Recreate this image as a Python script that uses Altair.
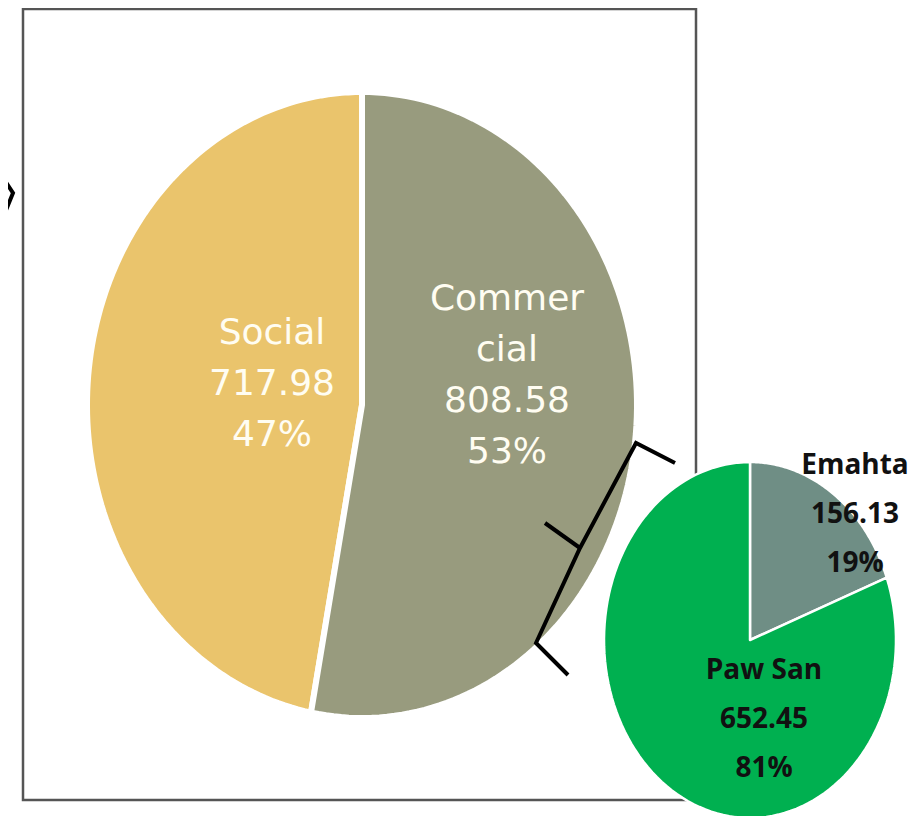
import altair as alt
import pandas as pd

# ---------------- data ----------------
main_labels = ["Social", "Commercial"]
main_values = [717.98, 808.58]
main_pcts = ["47%", "53%"]

sub_labels = ["Emahta", "Paw San"]
sub_values = [156.13, 652.45]
sub_pcts = ["19%", "81%"]

# ---------------- layout / style ----------------
W, H = 904, 808          # drawing area (page minus the 8px margin)
OFF = 8                  # page margin
N = 120                  # arc resolution

# pie geometry in page pixels (the reference pies are slightly elliptical)
PIE = {
    "main": dict(cx=362, cy=405, rx=275, ry=313),
    "sub": dict(cx=750, cy=640, rx=146, ry=178),
}
# clockwise from 12 o'clock
SLICE_ORDER = {"Commercial": 0, "Social": 1, "Emahta": 0, "Paw San": 1}
COLORS = {"Social": "#EAC46C", "Commercial": "#989B7E",
          "Emahta": "#6F8E85", "Paw San": "#00B050"}
WRAP = {"Commercial": "Commer\ncial"}
# label anchor: centre x and first-line y (page pixels)
LABEL_POS = {"Social": (272, 333), "Commercial": (507, 299),
             "Emahta": (855, 466), "Paw San": (764, 671)}

# ---------------- tables ----------------
rows = []
for pie, labs, vals, pcts in (("main", main_labels, main_values, main_pcts),
                              ("sub", sub_labels, sub_values, sub_pcts)):
    for lab, val, pct in zip(labs, vals, pcts):
        lx, ly = LABEL_POS[lab]
        rows.append(dict(pie=pie, label=lab, value=val, ord=SLICE_ORDER[lab],
                         txt=f"{WRAP.get(lab, lab)}\n{val:.2f}\n{pct}",
                         lx=lx - OFF, ly=ly - OFF))
slices = pd.DataFrame(rows)


def sel(key):
    m, s = PIE["main"][key], PIE["sub"][key]
    return f"(datum.pie == 'main' ? {m} : {s})"


xs = alt.Scale(domain=[0, W])
ys = alt.Scale(domain=[0, H], reverse=True)
fill_scale = alt.Scale(domain=list(COLORS.keys()), range=list(COLORS.values()))

wedges = (
    alt.Chart(slices)
    .transform_joinaggregate(total="sum(value)", groupby=["pie"])
    .transform_window(cum="sum(value)", sort=[alt.SortField("ord", order="ascending")],
                      groupby=["pie"])
    .transform_calculate(
        a0="2*PI*(datum.cum - datum.value)/datum.total",
        a1="2*PI*datum.cum/datum.total",
        ks=f"sequence(0, {N + 2})",
    )
    .transform_flatten(["ks"], as_=["k"])
    .transform_calculate(
        t=f"datum.k <= {N} ? datum.a0 + (datum.a1 - datum.a0) * datum.k / {N} : datum.a0",
        rr=f"datum.k > {N} ? 0 : 1",
    )
    .transform_calculate(
        px=f"{sel('cx')} - {OFF} + {sel('rx')} * datum.rr * sin(datum.t)",
        py=f"{sel('cy')} - {OFF} - {sel('ry')} * datum.rr * cos(datum.t)",
    )
)


def wedge_layer(pie, sw):
    return (
        wedges.transform_filter(f"datum.pie == '{pie}'")
        .mark_line(stroke="white", strokeWidth=sw, interpolate="linear-closed",
                   strokeJoin="round")
        .encode(
            x=alt.X("px:Q", scale=xs, axis=None),
            y=alt.Y("py:Q", scale=ys, axis=None),
            fill=alt.Fill("label:N", scale=fill_scale, legend=None),
            detail="label:N",
            order=alt.Order("k:Q"),
        )
    )


main_pie = wedge_layer("main", 6)
sub_pie = wedge_layer("sub", 2.5)

labels_main = (
    alt.Chart(slices).transform_filter("datum.pie == 'main'")
    .mark_text(font="DejaVu Sans", fontSize=36, color="#FFFDF2", lineBreak="\n",
               lineHeight=51, align="center", baseline="middle")
    .encode(x=alt.X("lx:Q", scale=xs, axis=None),
            y=alt.Y("ly:Q", scale=ys, axis=None), text="txt:N")
)
labels_sub = (
    alt.Chart(slices).transform_filter("datum.pie == 'sub'")
    .mark_text(font="Open Sans", fontSize=28, fontWeight="bold", color="#111111",
               lineBreak="\n", lineHeight=49, align="center", baseline="middle")
    .encode(x=alt.X("lx:Q", scale=xs, axis=None),
            y=alt.Y("ly:Q", scale=ys, axis=None), text="txt:N")
)

# decorative braces (page pixels)
BRACES = [
    ("mid", [(675, 463), (636, 443), (580, 548), (536, 643), (568, 675)]),
    ("tip", [(545, 523), (580, 548)]),
    ("left", [(0, 173), (13, 193), (2, 220)]),
]
brows = []
for name, pts in BRACES:
    for i, (bx, by) in enumerate(pts):
        brows.append(dict(seg=name, i=i, bx=bx - OFF, by=by - OFF))
braces = (
    alt.Chart(pd.DataFrame(brows))
    .mark_line(color="black", strokeWidth=4, strokeJoin="miter", strokeCap="butt")
    .encode(x=alt.X("bx:Q", scale=xs, axis=None),
            y=alt.Y("by:Q", scale=ys, axis=None),
            detail="seg:N", order=alt.Order("i:Q"))
)

frame = (
    alt.Chart(pd.DataFrame({"a": [0]}))
    .mark_rect(fill="transparent", stroke="#555555", strokeWidth=2.5)
    .encode(x=alt.value(23 - OFF), x2=alt.value(696 - OFF),
            y=alt.value(1), y2=alt.value(800 - OFF))
)

chart = (
    alt.layer(frame, main_pie, braces, sub_pie, labels_main, labels_sub)
    .properties(width=W, height=H, autosize="none", padding=0)
    .configure_view(strokeWidth=0)
)

chart.save("out.html", embed_options={"renderer": "svg", "actions": False})
